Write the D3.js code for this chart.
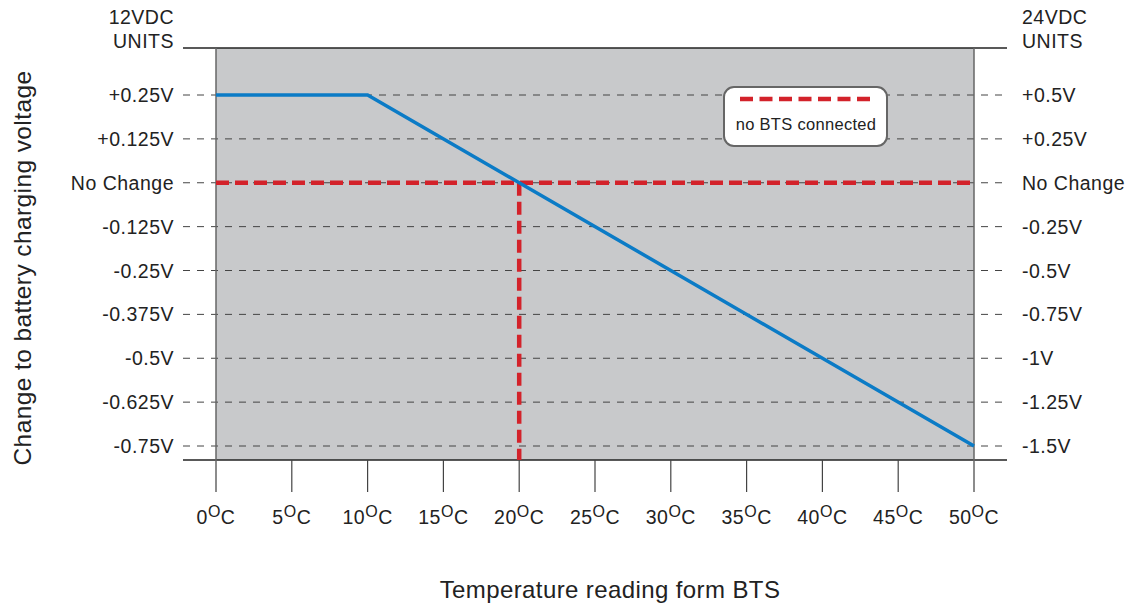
<!DOCTYPE html>
<html><head><meta charset="utf-8">
<script src="https://cdn.jsdelivr.net/npm/d3@7"></script>
<style>body{margin:0;background:#fff}svg{display:block;font-family:"Liberation Sans",Arial,sans-serif}</style>
</head><body><svg id="c" width="1137" height="612"></svg>
<script>
const xTicks = [0,5,10,15,20,25,30,35,40,45,50];
const yTicks = [0.25,0.125,0,-0.125,-0.25,-0.375,-0.5,-0.625,-0.75];
const leftLabels = ["+0.25V","+0.125V","No Change","-0.125V","-0.25V","-0.375V","-0.5V","-0.625V","-0.75V"];
const rightLabels = ["+0.5V","+0.25V","No Change","-0.25V","-0.5V","-0.75V","-1V","-1.25V","-1.5V"];
const btsTemp = [0,10,50];
const btsVolt = [0.25,0.25,-0.75];
const noBtsH = [[0,0],[50,0]];
const noBtsV = [[20,0],[20,-0.79]];

const svg = d3.select("#c");
const x = d3.scaleLinear().domain([0,50]).range([216,974]);
const y = d3.scaleLinear().domain([-0.75,0.25]).range([446,95]);
const yTop = 48, yBot = 460, xL = 183, xR = 1007;
const FS = 19.5, LS = 0.5;

svg.append("rect").attr("x",x(0)).attr("y",yTop).attr("width",x(50)-x(0)).attr("height",yBot-yTop).attr("fill","#c8c9cb");

svg.selectAll(".grid").data(yTicks).join("line")
  .attr("x1",xL).attr("x2",xR).attr("y1",d=>y(d)).attr("y2",d=>y(d))
  .attr("stroke","#444").attr("stroke-width",1).attr("stroke-dasharray","7,7");

svg.append("line").attr("x1",xL).attr("x2",xR).attr("y1",yTop).attr("y2",yTop).attr("stroke","#222").attr("stroke-width",1.5);
svg.append("line").attr("x1",xL).attr("x2",xR).attr("y1",yBot).attr("y2",yBot).attr("stroke","#222").attr("stroke-width",1.5);
svg.append("line").attr("x1",x(0)).attr("x2",x(0)).attr("y1",yTop).attr("y2",yBot+32).attr("stroke","#666").attr("stroke-width",1.5);
svg.append("line").attr("x1",x(50)).attr("x2",x(50)).attr("y1",yTop).attr("y2",yBot+32).attr("stroke","#666").attr("stroke-width",1.5);
svg.selectAll(".tk").data(xTicks.slice(1,-1)).join("line")
  .attr("x1",d=>x(d)).attr("x2",d=>x(d)).attr("y1",yBot).attr("y2",yBot+32)
  .attr("stroke","#444").attr("stroke-width",1.2);

svg.selectAll(".ll").data(yTicks).join("text")
  .attr("x",174).attr("y",d=>y(d)).attr("dy","0.36em").attr("text-anchor","end")
  .attr("font-size",FS).attr("letter-spacing",LS).attr("fill","#222").text((d,i)=>leftLabels[i]);
svg.selectAll(".rl").data(yTicks).join("text")
  .attr("x",1022).attr("y",d=>y(d)).attr("dy","0.36em").attr("text-anchor","start")
  .attr("font-size",FS).attr("letter-spacing",LS).attr("fill","#222").text((d,i)=>rightLabels[i]);

const xl = svg.selectAll(".xl").data(xTicks).join("text")
  .attr("x",d=>x(d)).attr("y",524).attr("text-anchor","middle")
  .attr("font-size",FS).attr("letter-spacing",LS).attr("fill","#222");
xl.append("tspan").text(d=>d);
xl.append("tspan").attr("dy",-7).attr("font-size",16).text("O");
xl.append("tspan").attr("dy",7).text("C");

[["12VDC",24],["UNITS",48]].forEach(t=>svg.append("text").attr("x",174).attr("y",t[1]).attr("text-anchor","end").attr("font-size",FS).attr("letter-spacing",LS).attr("fill","#222").text(t[0]));
[["24VDC",24],["UNITS",48]].forEach(t=>svg.append("text").attr("x",1022).attr("y",t[1]).attr("font-size",FS).attr("letter-spacing",LS).attr("fill","#222").text(t[0]));

svg.append("text").attr("x",610).attr("y",598).attr("text-anchor","middle").attr("font-size",24).attr("letter-spacing",0.4).attr("fill","#222").text("Temperature reading form BTS");
svg.append("text").attr("transform","translate(31,268) rotate(-90)").attr("text-anchor","middle").attr("font-size",24.5).attr("letter-spacing",0.4).attr("fill","#222").text("Change to battery charging voltage");

const line = d3.line().x(d=>x(d[0])).y(d=>y(d[1]));
svg.append("path").attr("d",line(noBtsV)).attr("fill","none").attr("stroke","#d3222a").attr("stroke-width",4.5).attr("stroke-dasharray","13,6");
svg.append("path").attr("d",line(noBtsH)).attr("fill","none").attr("stroke","#d3222a").attr("stroke-width",4.5).attr("stroke-dasharray","13,6");

svg.append("path").attr("d",line(btsTemp.map((t,i)=>[t,btsVolt[i]]))).attr("fill","none").attr("stroke","#0b7bc6").attr("stroke-width",3.5);

svg.append("rect").attr("x",724).attr("y",87).attr("width",163).attr("height",59).attr("rx",10).attr("fill","#fff").attr("stroke","#666").attr("stroke-width",2);
svg.append("line").attr("x1",740).attr("x2",870).attr("y1",99).attr("y2",99).attr("stroke","#d3222a").attr("stroke-width",4.5).attr("stroke-dasharray","13,6.5");
svg.append("text").attr("x",806).attr("y",130).attr("text-anchor","middle").attr("font-size",16.5).attr("letter-spacing",0.3).attr("fill","#222").text("no BTS connected");
</script></body></html>
